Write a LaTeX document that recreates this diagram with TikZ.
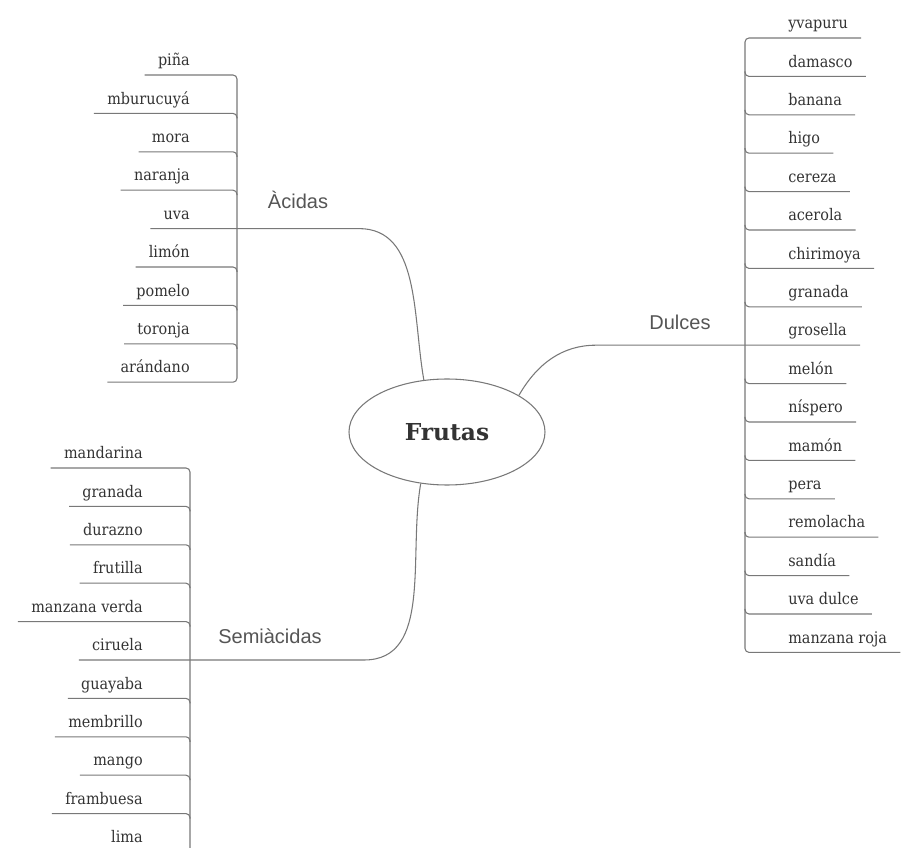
\documentclass[tikz,border=0pt]{standalone}
\usepackage{fontspec}
\setmainfont{DejaVu Serif}
\newfontfamily\leaffont{DejaVu Serif Condensed}
\newfontfamily\branchfont{Liberation Sans}
\usepackage{tikz}
\usetikzlibrary{positioning,shapes.geometric,calc}
\definecolor{colorline}  {RGB}{120,120,120}
\definecolor{colortext}  {RGB}{51 ,51 ,51 }
\definecolor{colorbranch}{RGB}{85 ,85 ,85 }

\begin{document}
\begin{tikzpicture}[
    x=0.75pt, y=-0.75pt,
    node distance = 11.8pt,
    leaf/.style={text=colortext,font={\leaffont\fontsize{12}{14}\selectfont},inner xsep=10pt,inner ysep=2pt,outer sep=0pt,text height=8pt,text depth=5pt},
    stackl/.style={below=of #1.south east,anchor=north east},
    stackr/.style={below=of #1.south west,anchor=north west},
    branch/.style={text=colorbranch,font={\branchfont\fontsize{15}{18}\selectfont}},
    root/.style={ellipse,draw=colorline,line width=0.8pt,minimum width=147pt,minimum height=79.5pt,inner sep=0pt,text=colortext,font={\bfseries\fontsize{17.5}{20}\selectfont}},
    twig/.style={draw=colorline,line width=0.8pt,rounded corners=3pt},
]
    \clip (0,0) rectangle (904,848);

    % Centre and branches
    \node[root]   (frutas) at (447,432) {Frutas};
    \node[branch] (acidas) at (298,200) {Àcidas};
    \node[branch] (dulces) at (680,322) {Dulces};
    \node[branch] (semi)   at (270,636) {Semiàcidas};

    \coordinate (acbar)  at (237,0);
    \coordinate (acbend) at (355,0);
    \coordinate (dubar)  at (745,0);
    \coordinate (dubend) at (600,0);
    \coordinate (sebar)  at (190,0);
    \coordinate (sebend) at (360,0);

    % Acidas
    \node[leaf,anchor=south east] (pina) at (203,75) {piña};
    \node[leaf,stackl=pina]  (mbur)  {mburucuyá};
    \node[leaf,stackl=mbur]  (mora)  {mora};
    \node[leaf,stackl=mora]  (nara)  {naranja};
    \node[leaf,stackl=nara]  (uva)   {uva};
    \node[leaf,stackl=uva]   (limon) {limón};
    \node[leaf,stackl=limon] (pome)  {pomelo};
    \node[leaf,stackl=pome]  (toro)  {toronja};
    \node[leaf,stackl=toro]  (ara)   {arándano};

    % Dulces
    \node[leaf,anchor=south west] (yvap) at (775,38) {yvapuru};
    \node[leaf,stackr=yvap]  (dama)  {damasco};
    \node[leaf,stackr=dama]  (bana)  {banana};
    \node[leaf,stackr=bana]  (higo)  {higo};
    \node[leaf,stackr=higo]  (cere)  {cereza};
    \node[leaf,stackr=cere]  (acer)  {acerola};
    \node[leaf,stackr=acer]  (chir)  {chirimoya};
    \node[leaf,stackr=chir]  (gran)  {granada};
    \node[leaf,stackr=gran]  (gros)  {grosella};
    \node[leaf,stackr=gros]  (melon) {melón};
    \node[leaf,stackr=melon] (nisp)  {níspero};
    \node[leaf,stackr=nisp]  (mamon) {mamón};
    \node[leaf,stackr=mamon] (pera)  {pera};
    \node[leaf,stackr=pera]  (remo)  {remolacha};
    \node[leaf,stackr=remo]  (sand)  {sandía};
    \node[leaf,stackr=sand]  (uvad)  {uva dulce};
    \node[leaf,stackr=uvad]  (mroj)  {manzana roja};

    % Semiacidas
    \node[leaf,anchor=south east] (mand) at (156,468) {mandarina};
    \node[leaf,stackl=mand]  (sgran) {granada};
    \node[leaf,stackl=sgran] (dura)  {durazno};
    \node[leaf,stackl=dura]  (frut)  {frutilla};
    \node[leaf,stackl=frut]  (mver)  {manzana verda};
    \node[leaf,stackl=mver]  (ciru)  {ciruela};
    \node[leaf,stackl=ciru]  (guay)  {guayaba};
    \node[leaf,stackl=guay]  (memb)  {membrillo};
    \node[leaf,stackl=memb]  (mango) {mango};
    \node[leaf,stackl=mango] (fram)  {frambuesa};
    \node[leaf,stackl=fram]  (lima)  {lima};

    % Bars
    \draw[twig] (pina.south west) -| (ara.south west -| acbar) -- (ara.south west);
    \draw[twig] (yvap.south east) -| (mroj.south east -| dubar) -- (mroj.south east);
    \draw[twig] (mand.south west) -| (lima.south west -| sebar) -- (lima.south west);
    \foreach \n in {mbur,mora,nara,limon,pome,toro}
        \draw[twig] (\n.south west) -| ($(\n.south west -| acbar)+(0,5)$);
    \foreach \n in {dama,bana,higo,cere,acer,chir,gran,melon,nisp,mamon,pera,remo,sand,uvad}
        \draw[twig] (\n.south east) -| ($(\n.south east -| dubar)+(0,-5)$);
    \foreach \n in {sgran,dura,frut,mver,guay,memb,mango,fram}
        \draw[twig] (\n.south west) -| ($(\n.south west -| sebar)+(0,5)$);

    % Branch lines
    \draw[twig] (uva.south west) -- (acbend |- uva.south west) to[out=0,in=100] (frutas.114);
    \draw[twig] (ciru.south west) -- (sebend |- ciru.south west) to[out=0,in=-100] (frutas.243);
    \draw[twig] (frutas.27) to[out=60,in=180] (dubend |- gros.south east) -- (gros.south east);

\end{tikzpicture}
\end{document}
